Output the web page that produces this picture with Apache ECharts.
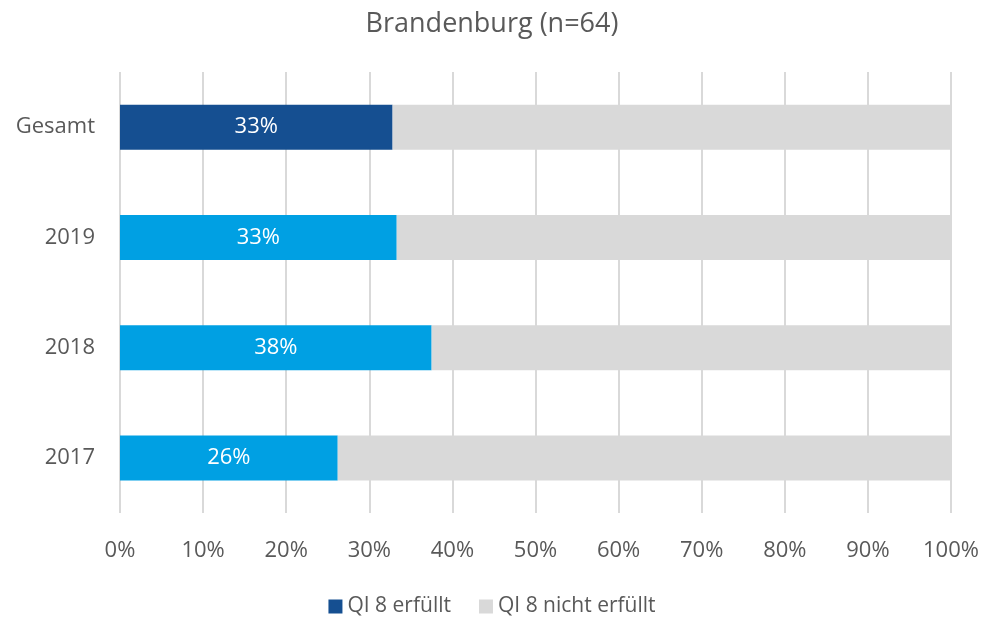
<!DOCTYPE html>
<html>
<head>
<meta charset="utf-8">
<script src="https://cdn.jsdelivr.net/npm/echarts@6/dist/echarts.min.js"></script>
<style>
  html, body { margin: 0; padding: 0; background: #fff; }
  #chart { width: 984px; height: 619px; }
</style>
</head>
<body>
<div id="chart"></div>
<script>
// Kategorien (oben nach unten)
const categories = ["Gesamt", "2019", "2018", "2017"];
// Anteil QI 8 erfüllt in %
const erfuellt = [32.8, 33.3, 37.5, 26.2];
// Rest bis 100 %
const nichtErfuellt = [67.2, 66.7, 62.5, 73.8];

const font = "Open Sans";
const textColor = "#595959";

const myChart = echarts.init(document.getElementById("chart"));
const option = {
  animation: false,
  title: {
    text: "Brandenburg (n=64)",
    left: "center",
    top: 6,
    textStyle: { fontFamily: font, fontSize: 27, fontWeight: "normal", color: textColor },
  },
  legend: {
    bottom: -3,
    left: "center",
    itemWidth: 14,
    itemHeight: 14,
    itemGap: 28,
    icon: "rect",
    textStyle: { fontFamily: font, fontSize: 21, color: textColor },
    data: ["QI 8 erfüllt", "QI 8 nicht erfüllt"],
  },
  grid: {
    left: 120,
    right: 33,
    top: 72,
    bottom: 106,
  },
  xAxis: {
    type: "value",
    min: 0,
    max: 100,
    interval: 10,
    axisLine: { show: false },
    axisTick: { show: false },
    axisLabel: {
      margin: 27,
      fontFamily: font,
      fontSize: 22,
      color: textColor,
      formatter: (v) => v + "%",
    },
    splitLine: { show: true, lineStyle: { color: "#D9D9D9", width: 2 } },
  },
  yAxis: {
    type: "category",
    inverse: true,
    data: categories,
    axisLine: { show: false },
    axisTick: { show: false },
    axisLabel: { margin: 25, fontFamily: font, fontSize: 22, color: textColor },
  },
  series: [
    {
      name: "QI 8 erfüllt",
      type: "bar",
      stack: "total",
      barWidth: 45,
      itemStyle: { color: "#154F91" },
      data: erfuellt.map((v, i) => ({
        value: v,
        itemStyle: { color: i === 0 ? "#154F91" : "#00A0E3" },
      })),
      label: {
        show: true,
        position: "inside",
        color: "#fff",
        fontFamily: font,
        fontSize: 22,
        formatter: (p) => Math.round(p.value) + "%",
      },
    },
    {
      name: "QI 8 nicht erfüllt",
      type: "bar",
      stack: "total",
      barWidth: 45,
      itemStyle: { color: "#D9D9D9" },
      data: nichtErfuellt,
    },
  ],
};
myChart.setOption(option);
</script>
</body>
</html>
